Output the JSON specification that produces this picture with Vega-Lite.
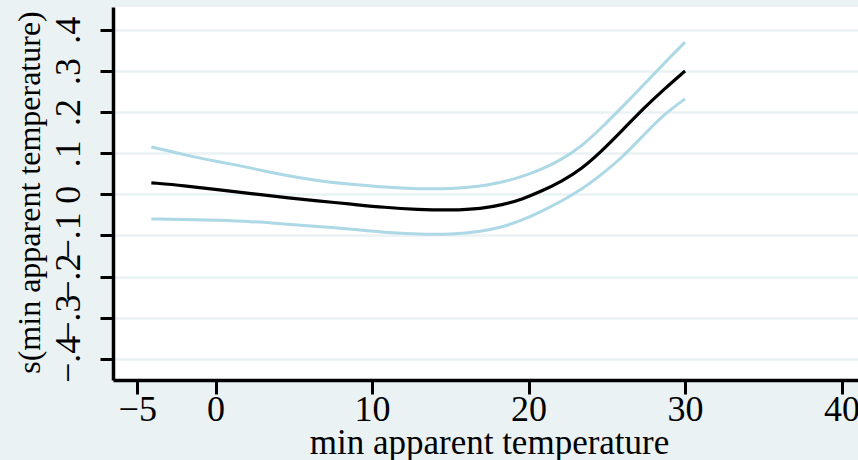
{
  "$schema": "https://vega.github.io/schema/vega-lite/v6.json",
  "width": 745,
  "height": 373,
  "autosize": {"type": "none"},
  "padding": {"left": 113, "top": 7, "right": 0, "bottom": 80},
  "background": "#eaf2f3",
  "config": {"font": "Liberation Serif"},
  "view": {"fill": "white", "stroke": null},
  "data": {
    "values": [
      {"t": -4.1, "fit": 0.028, "lo": -0.060, "hi": 0.115},
      {"t": -2.0, "fit": 0.021, "lo": -0.061, "hi": 0.096},
      {"t": 0.1, "fit": 0.011, "lo": -0.063, "hi": 0.080},
      {"t": 2.3, "fit": 0.002, "lo": -0.066, "hi": 0.064},
      {"t": 4.4, "fit": -0.008, "lo": -0.072, "hi": 0.046},
      {"t": 6.5, "fit": -0.016, "lo": -0.078, "hi": 0.033},
      {"t": 8.7, "fit": -0.024, "lo": -0.085, "hi": 0.024},
      {"t": 10.8, "fit": -0.032, "lo": -0.093, "hi": 0.017},
      {"t": 12.9, "fit": -0.037, "lo": -0.097, "hi": 0.013},
      {"t": 15.1, "fit": -0.039, "lo": -0.098, "hi": 0.013},
      {"t": 17.0, "fit": -0.035, "lo": -0.090, "hi": 0.020},
      {"t": 18.3, "fit": -0.026, "lo": -0.080, "hi": 0.029},
      {"t": 19.6, "fit": -0.012, "lo": -0.063, "hi": 0.043},
      {"t": 20.8, "fit": 0.007, "lo": -0.042, "hi": 0.060},
      {"t": 22.1, "fit": 0.031, "lo": -0.017, "hi": 0.084},
      {"t": 23.4, "fit": 0.062, "lo": 0.012, "hi": 0.117},
      {"t": 24.7, "fit": 0.106, "lo": 0.049, "hi": 0.163},
      {"t": 26.0, "fit": 0.156, "lo": 0.090, "hi": 0.213},
      {"t": 27.4, "fit": 0.211, "lo": 0.146, "hi": 0.268},
      {"t": 28.7, "fit": 0.257, "lo": 0.196, "hi": 0.320},
      {"t": 30.0, "fit": 0.300, "lo": 0.232, "hi": 0.370}
    ]
  },
  "encoding": {
    "x": {
      "field": "t",
      "type": "quantitative",
      "scale": {"domain": [-6.55, 41.05], "nice": false, "zero": false},
      "axis": {
        "values": [-5, 0, 10, 20, 30, 40],
        "title": "min apparent temperature",
        "grid": false,
        "domainColor": "black",
        "domainWidth": 3.5,
        "tickColor": "black",
        "tickWidth": 3,
        "tickSize": 14,
        "labelFont": "Liberation Serif",
        "labelFontSize": 36,
        "labelColor": "black",
        "labelPadding": 26,
        "labelBaseline": "alphabetic",
        "labelFlush": false,
        "labelOverlap": false,
        "titleFont": "Liberation Serif",
        "titleFontSize": 35,
        "titleFontWeight": "normal",
        "titleColor": "black",
        "titleX": 376,
        "titleY": 73,
        "titleBaseline": "alphabetic",
        "titleAlign": "center"
      }
    }
  },
  "layer": [
    {
      "mark": {"type": "line", "color": "#add8e6", "strokeWidth": 3, "interpolate": "basis"},
      "encoding": {
        "y": {
          "field": "hi",
          "type": "quantitative",
          "scale": {"domain": [-0.4516, 0.4555], "nice": false, "zero": false},
          "axis": {
            "values": [-0.4, -0.3, -0.2, -0.1, 0, 0.1, 0.2, 0.3, 0.4],
            "labelExpr": "datum.value == 0 ? '0' : replace(format(datum.value, '.1f'), '0.', '.')",
            "grid": true,
            "gridColor": "#eaf2f3",
            "gridWidth": 2.5,
            "domainColor": "black",
            "domainWidth": 3.5,
            "tickColor": "black",
            "tickWidth": 3,
            "tickSize": 13,
            "labelAngle": -90,
            "labelAlign": "center",
            "labelBaseline": "alphabetic",
            "labelPadding": 21,
            "labelFont": "Liberation Serif",
            "labelFontSize": 36,
            "labelColor": "black",
            "labelOverlap": false,
            "labelFlush": false,
            "title": "s(min apparent temperature)",
            "titleFont": "Liberation Serif",
            "titleFontSize": 32,
            "titleFontWeight": "normal",
            "titleColor": "black",
            "titleAngle": -90,
            "titleX": -74,
            "titleY": 185,
            "titleBaseline": "alphabetic",
            "titleAlign": "center"
          }
        }
      }
    },
    {
      "mark": {"type": "line", "color": "#add8e6", "strokeWidth": 3, "interpolate": "basis"},
      "encoding": {"y": {"field": "lo", "type": "quantitative"}}
    },
    {
      "mark": {"type": "line", "color": "black", "strokeWidth": 3.2, "interpolate": "basis"},
      "encoding": {"y": {"field": "fit", "type": "quantitative"}}
    }
  ]
}
